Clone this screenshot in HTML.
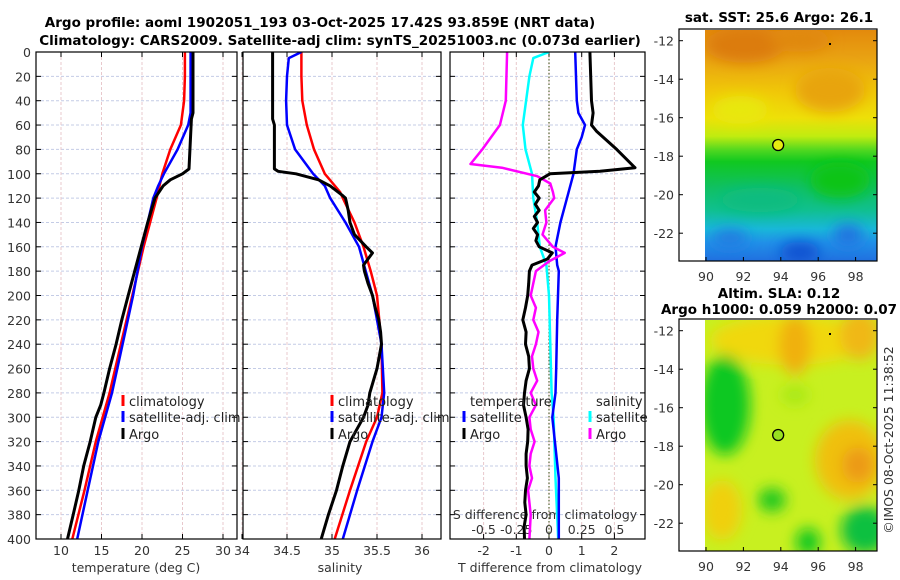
<!DOCTYPE html>
<html><head><meta charset="utf-8"><style>
html,body{margin:0;padding:0;background:#fff;}
svg{display:block;font-family:"DejaVu Sans","Liberation Sans",sans-serif;}
.tk{font-size:12.5px;fill:#333;}
.tt{font-size:13.5px;font-weight:bold;fill:#000;}
.lg{font-size:13px;fill:#222;}
</style></head><body>
<svg id="c" width="900" height="580" viewBox="0 0 900 580" xmlns="http://www.w3.org/2000/svg">
<defs>
<clipPath id="cp1"><rect x="36" y="52" width="201" height="487"/></clipPath>
<clipPath id="cp2"><rect x="243" y="52" width="198" height="487"/></clipPath>
<clipPath id="cp3"><rect x="450" y="52" width="195" height="487"/></clipPath>
<clipPath id="cm1"><rect x="705" y="30" width="172" height="231"/></clipPath>
<clipPath id="cm2"><rect x="705" y="320" width="172" height="231"/></clipPath>
<filter id="bl" x="-50%" y="-50%" width="200%" height="200%"><feGaussianBlur stdDeviation="7"/></filter>
<linearGradient id="sst" x1="0" y1="0" x2="0" y2="1">
<stop offset="0" stop-color="#e38a0c"/><stop offset="0.12" stop-color="#e9a212"/>
<stop offset="0.27" stop-color="#f0c808"/><stop offset="0.38" stop-color="#eee008"/>
<stop offset="0.46" stop-color="#c0ec10"/><stop offset="0.52" stop-color="#50d820"/>
<stop offset="0.57" stop-color="#10c820"/><stop offset="0.68" stop-color="#10c060"/>
<stop offset="0.78" stop-color="#10c090"/><stop offset="0.86" stop-color="#18b8d8"/>
<stop offset="0.92" stop-color="#2090e8"/><stop offset="1" stop-color="#2070e0"/>
</linearGradient>
</defs>
<g id="titles">
<text class="tt" x="320" y="27" text-anchor="middle">Argo profile: aoml 1902051_193 03-Oct-2025 17.42S 93.859E (NRT data)</text>
<text class="tt" x="340" y="45" text-anchor="middle">Climatology: CARS2009. Satellite-adj clim: synTS_20251003.nc (0.073d earlier)</text>
<text class="tt" x="779" y="22" text-anchor="middle">sat. SST: 25.6 Argo: 26.1</text>
<text class="tt" x="779" y="298" text-anchor="middle">Altim. SLA: 0.12</text>
<text class="tt" x="779" y="314" text-anchor="middle">Argo h1000: 0.059 h2000: 0.07</text>
<text class="tk" transform="translate(893,440) rotate(-90)" text-anchor="middle">©IMOS 08-Oct-2025 11:38:52</text>
</g>
<g id="g"></g>
</svg>
<script>
// ---- data ----
const depthTicks=[0,20,40,60,80,100,120,140,160,180,200,220,240,260,280,300,320,340,360,380,400];
const tempTicks=[10,15,20,25,30];
const salTicks=[34,34.5,35,35.5,36];
const tdiffTicks=[-2,-1,0,1,2];
const sdiffTicks=[-0.5,-0.25,0,0.25,0.5];
const tempClimDepth=[0,20,40,60,80,100,120,140,160,200,240,280,320,360,400];
const tempClim=[25.3,25.3,25.2,24.8,23.5,22.5,21.8,21.0,20.2,18.8,17.4,16.0,14.3,12.9,11.4];
const tempSatDepth=[0,20,50,60,80,100,110,120,140,160,200,240,280,320,360,400];
const tempSat=[26.0,26.0,26.0,25.7,24.4,22.7,22.0,21.4,20.7,20.0,18.9,17.6,16.3,14.6,13.3,12.0];
const tempArgoDepth=[0,20,50,55,96,100,105,110,120,140,160,180,200,220,240,260,280,290,300,320,340,360,380,400];
const tempArgo=[26.3,26.3,26.3,26.1,25.8,25.0,23.5,22.6,21.6,20.7,19.9,19.1,18.3,17.5,16.8,16.0,15.3,14.9,14.3,13.6,12.8,12.2,11.5,10.8];
const salClimDepth=[0,20,40,60,80,100,115,120,140,160,180,200,240,280,300,320,360,400];
const salClim=[34.66,34.66,34.67,34.72,34.80,34.92,35.09,35.12,35.25,35.35,35.43,35.50,35.55,35.56,35.50,35.38,35.20,35.03];
const salSatDepth=[0,5,20,40,60,80,100,110,120,140,160,200,240,280,300,320,360,400];
const salSat=[34.66,34.52,34.50,34.49,34.50,34.59,34.79,34.92,34.98,35.15,35.30,35.45,35.55,35.58,35.55,35.45,35.28,35.12];
const salArgoDepth=[0,55,60,96,98,100,105,110,118,120,130,140,150,160,165,170,175,180,190,200,210,220,230,240,260,280,290,300,320,340,360,380,400];
const salArgo=[34.34,34.34,34.36,34.36,34.40,34.60,34.85,34.98,35.12,35.15,35.18,35.20,35.25,35.38,35.45,35.40,35.35,35.36,35.40,35.45,35.48,35.52,35.54,35.55,35.50,35.42,35.40,35.35,35.20,35.12,35.05,34.96,34.88];
const tdSatDepth=[0,40,50,60,70,80,100,120,140,160,175,180,220,260,280,300,350,400];
const tdSat=[0.8,0.85,0.9,1.1,1.0,0.85,0.75,0.55,0.35,0.2,0.25,0.3,0.25,0.22,0.2,0.1,0.3,0.3];
const tdArgoDepth=[0,40,50,60,65,80,95,98,100,105,110,115,120,125,130,135,140,145,150,155,160,165,170,175,180,190,200,210,220,230,240,250,260,270,280,290,300,310,320,330,340,350,360,370,380,390,400];
const tdArgo=[1.25,1.3,1.35,1.3,1.45,2.07,2.63,1.56,0.03,-0.28,-0.32,-0.45,-0.3,-0.42,-0.3,-0.45,-0.35,-0.48,-0.35,-0.4,-0.3,0.1,-0.05,-0.52,-0.6,-0.62,-0.65,-0.72,-0.8,-0.7,-0.72,-0.62,-0.6,-0.7,-0.75,-0.78,-0.7,-0.64,-0.65,-0.7,-0.7,-0.66,-0.72,-0.74,-0.7,-0.76,-0.75];
const sdSatDepth=[0,5,20,40,60,80,100,120,140,160,175,200,240,280,300,350,400];
const sdSat=[0,-0.12,-0.15,-0.175,-0.2,-0.18,-0.13,-0.12,-0.09,-0.07,-0.02,0.0,0.01,0.02,0.035,0.05,0.07];
const sdArgoDepth=[0,40,60,80,92,95,102,108,115,120,130,140,150,160,165,172,180,190,200,210,220,230,240,250,260,270,280,290,300,310,320,330,340,350,360,380,400];
const sdArgo=[-0.32,-0.33,-0.375,-0.51,-0.6,-0.36,-0.09,0.01,0.03,0.04,-0.03,-0.02,-0.05,0.03,0.12,0.0,-0.1,-0.12,-0.14,-0.1,-0.12,-0.08,-0.1,-0.13,-0.12,-0.09,-0.14,-0.1,-0.15,-0.14,-0.11,-0.14,-0.15,-0.13,-0.16,-0.14,-0.15];
const lonTicks=[90,92,94,96,98];
const latTicks=[-12,-14,-16,-18,-20,-22];
const argoLon=93.859, argoLat=-17.42;

// ---- scales ----
const yD=d=>52+d*1.2175;
const xT=t=>61+(t-10)*8.1;
const xS=s=>242+(s-34)*90;
const xDT=t=>549+t*32.7;
const xDS=s=>549+s*4*32.7;
const lonX=l=>706+(l-90)*18.7;
const latY=(l,off)=>40.7+off+(-12-l)*19.25;

const NS="http://www.w3.org/2000/svg";
const G=document.getElementById('g');
function mk(tag,attrs,parent){const e=document.createElementNS(NS,tag);for(const k in attrs)e.setAttribute(k,attrs[k]);(parent||G).appendChild(e);return e;}
function txt(x,y,s,cls,anchor,parent){const e=mk('text',{x:x,y:y,'class':cls,'text-anchor':anchor||'start'},parent);e.textContent=s;return e;}

const panels=[{x:36,w:201,clip:'cp1',ticks:tempTicks,fx:xT,lab:'temperature (deg C)',labx:136,name:'temperature'},
{x:243,w:198,clip:'cp2',ticks:salTicks,fx:xS,lab:'salinity',labx:340,name:'salinity'},
{x:450,w:195,clip:'cp3',ticks:tdiffTicks,fx:xDT,lab:'T difference from climatology',labx:550,name:'difference'}];
panels.forEach((p,i)=>{
  const pg=mk('g',{});
  
  
  depthTicks.forEach(d=>{
    if(d>0&&d<400){const l=mk('line',{x1:p.x,x2:p.x+p.w,y1:yD(d),y2:yD(d),stroke:'#c4cce6','stroke-width':1,'stroke-dasharray':'3,2'},pg);
    }
    mk('line',{x1:p.x,x2:p.x+5,y1:yD(d),y2:yD(d),stroke:'#000'},pg);
    mk('line',{x1:p.x+p.w-5,x2:p.x+p.w,y1:yD(d),y2:yD(d),stroke:'#000'},pg);
    if(i==0){const t=txt(31,yD(d)+5,String(d),'tk','end',pg);}
  });
  p.ticks.forEach(v=>{
    const x=p.fx(v);
    const l=mk('line',{x1:x,x2:x,y1:52,y2:539,stroke:'#e8c8cc','stroke-width':1,'stroke-dasharray':'3,2'},pg);
    
    mk('line',{x1:x,x2:x,y1:539,y2:534,stroke:'#000'},pg);
    mk('line',{x1:x,x2:x,y1:52,y2:57,stroke:'#000'},pg);
    const t=txt(x,555,String(v),'tk','middle',pg);
    
  });
  const xl=txt(p.labx,572,p.lab,'tk','middle',pg);
  
});
const sdt=txt(545,519,'S difference from climatology','tk','middle');

sdiffTicks.forEach(v=>{const t=txt(xDS(v),534,String(v),'tk','middle');
});
const zl=mk('line',{x1:xDT(0),x2:xDT(0),y1:52,y2:539,stroke:'#556633','stroke-width':1.2,'stroke-dasharray':'1.5,2'});


function series(depths,vals,fx,color,w,clip,name){
  const pts=depths.map((d,i)=>fx(vals[i]).toFixed(1)+','+yD(d).toFixed(1)).join(' ');
  const pl=mk('polyline',{points:pts,fill:'none',stroke:color,'stroke-width':w,'stroke-linejoin':'round','clip-path':'url(#'+clip+')'});
  
  
}
series(tempClimDepth,tempClim,xT,'#ff0000',2.5,'cp1','temp-climatology-line');
series(tempSatDepth,tempSat,xT,'#0000ff',2.5,'cp1','temp-satellite-line');
series(tempArgoDepth,tempArgo,xT,'#000',3,'cp1','temp-argo-line');
series(salClimDepth,salClim,xS,'#ff0000',2.5,'cp2','sal-climatology-line');
series(salSatDepth,salSat,xS,'#0000ff',2.5,'cp2','sal-satellite-line');
series(salArgoDepth,salArgo,xS,'#000',3,'cp2','sal-argo-line');
series(sdSatDepth,sdSat,xDS,'#00ffff',2.5,'cp3','sdiff-satellite-line');
series(tdSatDepth,tdSat,xDT,'#0000ff',2.5,'cp3','tdiff-satellite-line');
series(sdArgoDepth,sdArgo,xDS,'#ff00ff',2.5,'cp3','sdiff-argo-line');
series(tdArgoDepth,tdArgo,xDT,'#000',3,'cp3','tdiff-argo-line');

panels.forEach(p=>{const r=mk('rect',{x:p.x,y:52,width:p.w,height:487,fill:'none',stroke:'#000','stroke-width':1.2});
});

function legend(x,y,color,label){
  const lg=mk('g',{});
  
  
  mk('line',{x1:x,x2:x,y1:y-11,y2:y,stroke:color,'stroke-width':3},lg);
  txt(x+6,y,label,'lg','start',lg);
}
legend(123,406,'#ff0000','climatology');legend(123,422,'#0000ff','satellite-adj. clim');legend(123,439,'#000','Argo');
legend(332,406,'#ff0000','climatology');legend(332,422,'#0000ff','satellite-adj. clim');legend(332,439,'#000','Argo');
const lt=txt(470,406,'temperature','lg');
const ls=txt(596,406,'salinity','lg');
legend(464,422,'#0000ff','satellite');legend(464,439,'#000','Argo');
legend(590,422,'#00ffff','satellite');legend(590,439,'#ff00ff','Argo');

function map(off,kind){
  const mg=mk('g',{});
  
  
  const top=30+off;
  const inner=mk('g',{'clip-path':'url(#'+(off?'cm2':'cm1')+')'},mg);
  if(kind==='sst'){
    mk('rect',{x:705,y:top,width:172,height:231,fill:'url(#sst)'},inner);
    const bl=mk('g',{filter:'url(#bl)'},inner);
    mk('ellipse',{cx:745,cy:top+15,rx:40,ry:18,fill:'#dc7c08'},bl);
    mk('ellipse',{cx:800,cy:top+10,rx:30,ry:12,fill:'#e08808'},bl);
    mk('ellipse',{cx:830,cy:top+60,rx:35,ry:22,fill:'#e8a410'},bl);
    mk('ellipse',{cx:740,cy:top+80,rx:28,ry:14,fill:'#e8e810'},bl);
    mk('ellipse',{cx:840,cy:top+150,rx:30,ry:18,fill:'#10c418'},bl);
    mk('ellipse',{cx:760,cy:top+170,rx:40,ry:12,fill:'#10bc80'},bl);
    mk('ellipse',{cx:800,cy:top+222,rx:20,ry:10,fill:'#1050d0'},bl);
    mk('ellipse',{cx:848,cy:top+205,rx:15,ry:10,fill:'#2070e0'},bl);
    mk('ellipse',{cx:730,cy:top+208,rx:18,ry:8,fill:'#2078e0'},bl);
  } else {
    mk('rect',{x:705,y:top,width:172,height:231,fill:'#c8f020'},inner);
    const bl=mk('g',{filter:'url(#bl)'},inner);
    mk('ellipse',{cx:790,cy:top+20,rx:80,ry:25,fill:'#f0d810'},bl);
    mk('ellipse',{cx:795,cy:top+25,rx:16,ry:30,fill:'#f0b010'},bl);
    mk('ellipse',{cx:860,cy:top+15,rx:20,ry:25,fill:'#f0b818'},bl);
    mk('ellipse',{cx:850,cy:top+140,rx:35,ry:40,fill:'#f0c010'},bl);
    mk('ellipse',{cx:858,cy:top+145,rx:16,ry:18,fill:'#ec9a18'},bl);
    mk('ellipse',{cx:722,cy:top+190,rx:20,ry:30,fill:'#f0d010'},bl);
    mk('ellipse',{cx:725,cy:top+85,rx:25,ry:50,fill:'#10c820'},bl);
    mk('ellipse',{cx:772,cy:top+180,rx:14,ry:12,fill:'#20c820'},bl);
    mk('ellipse',{cx:808,cy:top+222,rx:12,ry:14,fill:'#10c820'},bl);
    mk('ellipse',{cx:865,cy:top+210,rx:24,ry:24,fill:'#10c040'},bl);
    mk('ellipse',{cx:795,cy:top+75,rx:14,ry:10,fill:'#a8e818'},bl);
  }
  latTicks.forEach(l=>{const y=latY(l,off);
    mk('line',{x1:873,x2:877,y1:y,y2:y,stroke:'#000'},mg);
    mk('line',{x1:679,x2:683,y1:y,y2:y,stroke:'#000'},mg);
    const t=txt(674,y+5,String(l),'tk','end',mg);});
  lonTicks.forEach(l=>{const x=lonX(l);
    mk('line',{x1:x,x2:x,y1:top+231,y2:top+227,stroke:'#000'},mg);
    const t=txt(x,top+251,String(l),'tk','middle',mg);});
  mk('rect',{x:679,y:top-1,width:198,height:232,fill:'none',stroke:'#000','stroke-width':1.2},mg);
  mk('rect',{x:829,y:top+13,width:2,height:2,fill:'#000'},mg);
  const c=mk('circle',{cx:lonX(argoLon),cy:latY(argoLat,off),r:5.5,fill:kind==='sst'?'#e6ec10':'#98e020',stroke:'#000','stroke-width':1.3},mg);
  
}
map(0,'sst');
map(290,'sla');
</script>
</body></html>
